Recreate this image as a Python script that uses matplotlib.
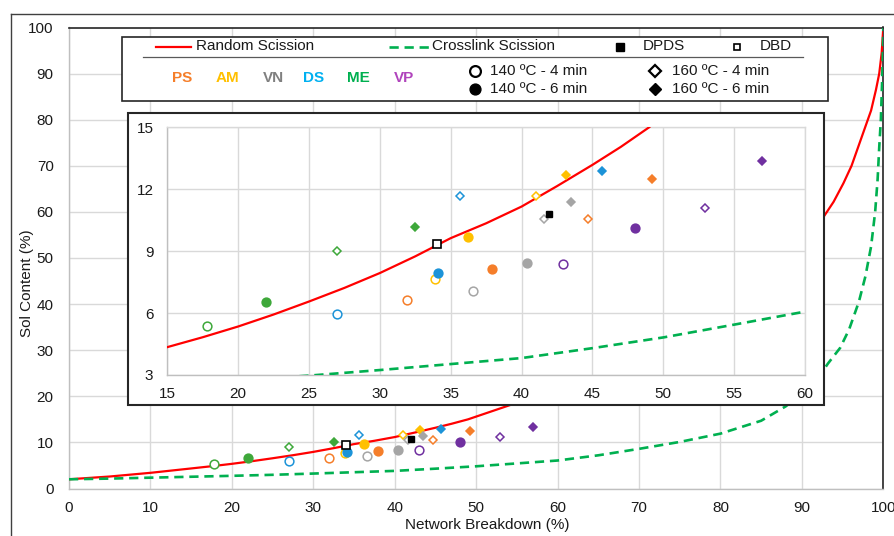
import matplotlib
matplotlib.use('Agg')
import matplotlib.pyplot as plt
from matplotlib.patches import Rectangle

plt.rcParams['font.family'] = ['Liberation Sans', 'DejaVu Sans']

# ---------------- data ----------------
materials = ["PS", "AM", "VN", "DS", "ME", "VP"]
conditions = ["140 ºC - 4 min", "140 ºC - 6 min", "160 ºC - 4 min", "160 ºC - 6 min"]
marker_colors = ["#F57E2A", "#FFC000", "#A5A5A5", "#1C93D8", "#3EA83A", "#7030A0"]
label_colors = ["#F57E2A", "#FFC000", "#808080", "#00B0F0", "#00B050", "#B044BC"]

# network breakdown (%) and sol content (%) for the four conditions
breakdown_PS = [31.9, 37.9, 44.7, 49.2]
sol_PS = [6.65, 8.13, 10.55, 12.5]
breakdown_AM = [33.9, 36.2, 41.0, 43.15]
sol_AM = [7.66, 9.68, 11.65, 12.71]
breakdown_VN = [36.6, 40.4, 41.6, 43.5]
sol_VN = [7.08, 8.45, 10.55, 11.39]
breakdown_DS = [27.0, 34.1, 35.66, 45.66]
sol_DS = [5.97, 7.94, 11.68, 12.89]
breakdown_ME = [17.77, 22.0, 27.0, 32.5]
sol_ME = [5.39, 6.53, 9.03, 10.16]
breakdown_VP = [42.93, 47.98, 52.96, 56.97]
sol_VP = [8.40, 10.10, 11.1, 13.37]

breakdown_DPDS = [41.97]
sol_DPDS = [10.81]
breakdown_DBD = [34.0]
sol_DBD = [9.37]

# theoretical curves
random_x = [0, 5, 10, 15, 17.5, 20, 22.5, 25, 27.5, 30, 32.5, 35, 37.5, 40, 42.5, 45, 47, 49,
            55, 60, 65, 70, 75, 80, 85, 90, 92.7, 93.9, 95.1, 96.1, 97.0, 97.8, 98.5, 99.1,
            99.5, 99.8, 100]
random_y = [2.0, 2.6, 3.4, 4.35, 4.83, 5.35, 5.93, 6.56, 7.22, 7.94, 8.75, 9.63, 10.35, 11.16,
            12.15, 13.18, 14.05, 15.0, 18.6, 22.3, 26.5, 31.0, 36.0, 41.5, 47.5, 54.5, 59.0,
            62.2, 66.2, 70.0, 74.5, 78.5, 82.0, 86.5, 90.0, 94.5, 100]
cross_x = [0, 5, 10, 15, 20, 25, 30, 35, 40, 45, 50, 55, 60, 65, 70, 75, 80, 85, 88, 90, 92,
           93.2, 94.7, 95.8, 97.0, 97.8, 98.5, 99.0, 99.3, 99.5, 99.7, 99.85, 99.95, 100]
cross_y = [2.0, 2.15, 2.35, 2.55, 2.75, 2.97, 3.24, 3.53, 3.82, 4.3, 4.82, 5.44, 6.07, 7.2,
           8.6, 10.1, 11.9, 14.7, 17.8, 20.5, 24.0, 27.1, 30.5, 34.5, 40.5, 46.0, 52.5, 60.0,
           67.0, 74.0, 80.0, 88.0, 95.0, 100]

series = {
    "PS": (breakdown_PS, sol_PS), "AM": (breakdown_AM, sol_AM), "VN": (breakdown_VN, sol_VN),
    "DS": (breakdown_DS, sol_DS), "ME": (breakdown_ME, sol_ME), "VP": (breakdown_VP, sol_VP),
}

# ---------------- figure ----------------
W, H = 894, 536
fig = plt.figure(figsize=(W / 100, H / 100), dpi=100)


def fr(l, t, r, b):
    return [l / W, 1 - b / H, (r - l) / W, (b - t) / H]


RED = "#FF0000"
GREEN = "#00B050"
TXT = "#1a1a1a"
GRID = "#D9D9D9"
dash = (0, (3.5, 2.2))

styles = [("o", False), ("o", True), ("D", False), ("D", True)]


def draw_data(a, scale=1.0):
    a.plot(random_x, random_y, color=RED, lw=1.6, zorder=3, solid_joinstyle='round')
    a.plot(cross_x, cross_y, color=GREEN, lw=1.9, ls=dash, zorder=3)
    for m, col in zip(materials, marker_colors):
        xs, ys = series[m]
        for (mk, filled), x, y in zip(styles, xs, ys):
            ms = 6.3 if mk == "o" else 4.5
            a.plot([x], [y], marker=mk, ls='none', ms=ms * scale,
                   mfc=col if filled else "white", mec=col, mew=1.1, zorder=4)
    a.plot(breakdown_DPDS, sol_DPDS, marker='s', ls='none', ms=3.9 * scale,
           mfc='black', mec='black', zorder=5)
    a.plot(breakdown_DBD, sol_DBD, marker='s', ls='none', ms=5.4 * scale,
           mfc='white', mec='black', mew=1.2, zorder=5)


# main axes
ax = fig.add_axes(fr(69, 27.5, 883.3, 488.5), zorder=1)
ax.set_xlim(0, 100)
ax.set_ylim(0, 100)
ax.set_xticks(range(0, 101, 10))
ax.set_yticks(range(0, 101, 10))
ax.grid(True, color=GRID, lw=1.0)
ax.set_axisbelow(True)
ax.tick_params(length=0, labelsize=11, labelcolor=TXT)
ax.tick_params(axis='y', pad=11)
ax.tick_params(axis='x', pad=9)
for s in ("left", "bottom"):
    ax.spines[s].set_color("#BFBFBF")
    ax.spines[s].set_linewidth(1.0)
for s in ("top", "right"):
    ax.spines[s].set_color("#262626")
    ax.spines[s].set_linewidth(1.2)
draw_data(ax)

fig.text(487 / W, 1 - 525 / H, "Network Breakdown (%)", ha='center', va='center',
         fontsize=11, color=TXT)
fig.text(27 / W, 1 - 283 / H, "Sol Content (%)", ha='center', va='center',
         rotation=90, fontsize=11, color=TXT)

# overlay for boxes, frame and legend
ov = fig.add_axes([0, 0, 1, 1], zorder=2)
ov.set_xlim(0, W)
ov.set_ylim(H, 0)
ov.axis('off')

ov.plot([11, 11], [H, 14], color="#404040", lw=1.0, clip_on=False)
ov.plot([11, W], [14, 14], color="#404040", lw=1.0, clip_on=False)

ov.add_patch(Rectangle((128, 112.5), 824 - 128, 404.5 - 112.5, fc='white', ec='#262626', lw=1.5))
ov.add_patch(Rectangle((122, 37.3), 827.7 - 122, 100.7 - 37.3, fc='white', ec='#262626', lw=1.2))

r1, r2, r3, rm = 46.5, 70.7, 89.3, 78.3
ov.plot([156, 191], [r1, r1], color=RED, lw=1.6)
ov.text(195.8, r1, "Random Scission", va='center', ha='left', fontsize=11, color=TXT)
ov.plot([389, 429], [r1, r1], color=GREEN, lw=1.9, ls=dash)
ov.text(432, r1, "Crosslink Scission", va='center', ha='left', fontsize=11, color=TXT)
ov.plot([620], [r1], marker='s', ms=5.2, mfc='black', mec='black', ls='none')
ov.text(643, r1, "DPDS", va='center', ha='left', fontsize=11, color=TXT)
ov.plot([737], [r1], marker='s', ms=4.6, mfc='white', mec='black', mew=1.2, ls='none')
ov.text(760, r1, "DBD", va='center', ha='left', fontsize=11, color=TXT)
ov.plot([143, 803.3], [56.7, 56.7], color="#595959", lw=0.9)

label_x = [182.5, 227.7, 273, 314, 358.8, 404]
for m, c, lx in zip(materials, label_colors, label_x):
    ov.text(lx, rm, m, ha='center', va='center', fontsize=11, fontweight='bold', color=c)

ov.plot([474.8], [r2], marker='o', ms=7.8, mfc='white', mec='black', mew=1.6, ls='none')
ov.plot([474.8], [r3], marker='o', ms=7.8, mfc='black', mec='black', ls='none')
ov.text(490, r2, conditions[0], va='center', ha='left', fontsize=11, color=TXT)
ov.text(490, r3, conditions[1], va='center', ha='left', fontsize=11, color=TXT)
ov.plot([655], [r2], marker='D', ms=6.0, mfc='white', mec='black', mew=1.6, ls='none')
ov.plot([655], [r3], marker='D', ms=6.0, mfc='black', mec='black', ls='none')
ov.text(671.7, r2, conditions[2], va='center', ha='left', fontsize=11, color=TXT)
ov.text(671.7, r3, conditions[3], va='center', ha='left', fontsize=11, color=TXT)

# inset axes
axi = fig.add_axes(fr(167.3, 127.3, 805, 375), zorder=3)
axi.set_xlim(15, 60)
axi.set_ylim(3, 15)
axi.set_xticks(range(15, 61, 5))
axi.set_yticks([3, 6, 9, 12, 15])
axi.grid(True, color=GRID, lw=1.0)
axi.set_axisbelow(True)
axi.tick_params(length=0, labelsize=11, labelcolor=TXT)
axi.tick_params(axis='y', pad=10)
axi.tick_params(axis='x', pad=9)
for s in axi.spines.values():
    s.set_color(GRID)
    s.set_linewidth(1.0)
axi.spines['left'].set_color("#BFBFBF")
axi.spines['bottom'].set_color("#BFBFBF")
draw_data(axi)

fig.savefig("out.png", dpi=100)
